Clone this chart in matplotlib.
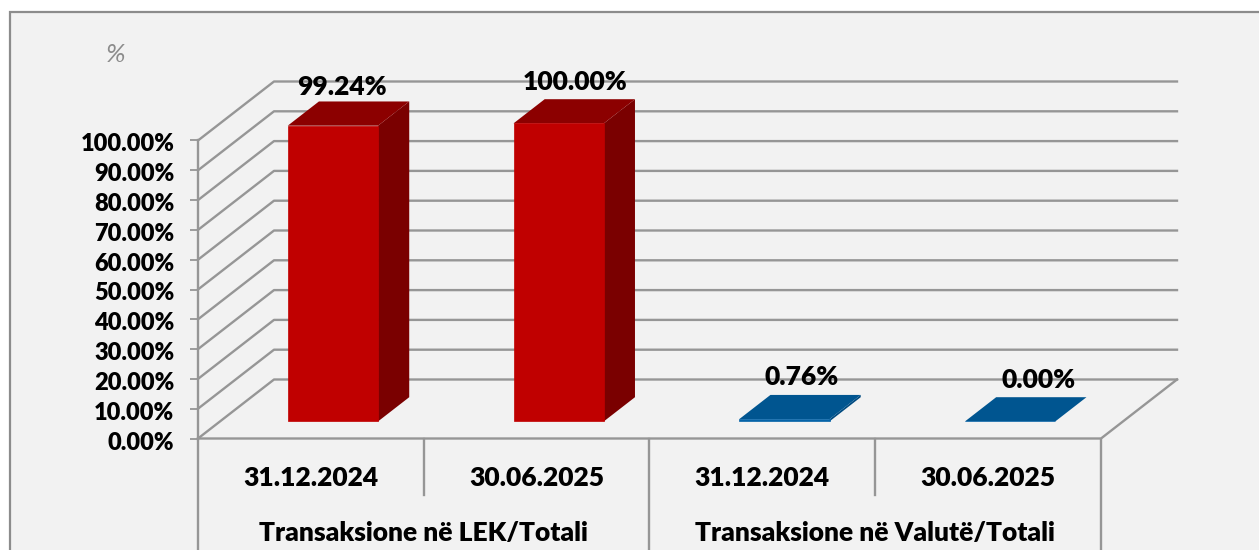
import matplotlib
matplotlib.use("Agg")
import matplotlib.pyplot as plt
from matplotlib.patches import Polygon, Rectangle
from matplotlib.transforms import ScaledTranslation

plt.rcParams['font.family'] = ['Lato', 'DejaVu Sans']

groups = ["Transaksione në LEK/Totali", "Transaksione në Valutë/Totali"]
dates = ["31.12.2024", "30.06.2025", "31.12.2024", "30.06.2025"]
values = [99.24, 100.00, 0.76, 0.00]
labels = ["99.24%", "100.00%", "0.76%", "0.00%"]
y_ticks = [0, 10, 20, 30, 40, 50, 60, 70, 80, 90, 100]

W, H = 1259, 550
GRID = '#969696'
BG = '#f2f2f2'
FRONT = ['#c00000', '#c00000', '#0563a8', '#0563a8']
TOP = ['#8c0000', '#8c0000', '#005590', '#005590']
SIDE = ['#7a0000', '#7a0000', '#004a80', '#004a80']
# hand placed data labels, pixels from the back edge of the bar top
LABEL_DX = [-22, -15, -14, -3]
LABEL_DY = [14, 17, 18, 17]

# front plane of the box, in pixels
left, right, base, top = 198, 1101, 438.5, 140.5
depth_x = 76 / (right - left) * 4   # depth expressed in data units
depth_y = 59 / (base - top) * 100

fig = plt.figure(figsize=(W / 100, H / 100), dpi=100, facecolor='white')

# background and frame, the right side runs off the picture
bg = fig.add_axes([0, 0, 1, 1])
bg.set_xlim(0, W)
bg.set_ylim(H, 0)
bg.axis('off')
bg.add_patch(Rectangle((10, 12), 1300, 560, fc=BG, ec='#8c8c8c', lw=1.6))
bg.text(116, 55, "%", fontsize=19, style='italic', color='#8c8c8c', ha='center', va='center')

ax = fig.add_axes([left / W, 1 - base / H, (right - left) / W, (base - top) / H])
ax.set_xlim(0, 4)
ax.set_ylim(0, 100)
ax.patch.set_alpha(0)
for s in ax.spines.values():
    s.set_visible(False)


def proj(x, v, d):
    # d is depth, 0 = front plane, 1 = back wall
    return (x + d * depth_x, v + d * depth_y)


# walls, gridlines
for v in y_ticks:
    pts = [proj(0, v, 0), proj(0, v, 1), proj(4, v, 1)]
    ax.plot(*zip(*pts), color=GRID, lw=1.7, clip_on=False, zorder=1)
ax.plot([0, 0], [0, 100], color=GRID, lw=1.7, clip_on=False, zorder=1)
floor = [proj(0, 0, 0), proj(4, 0, 0), proj(4, 0, 1)]
ax.plot(*zip(*floor), color=GRID, lw=1.7, clip_on=False, zorder=1)

# bars
bar_w = 0.4
d0, d1 = 0.29, 0.70
for i, v in enumerate(values):
    x0 = i + 0.5 - bar_w / 2
    x1 = i + 0.5 + bar_w / 2
    front = [proj(x0, 0, d0), proj(x1, 0, d0), proj(x1, v, d0), proj(x0, v, d0)]
    side = [proj(x1, 0, d0), proj(x1, 0, d1), proj(x1, v, d1), proj(x1, v, d0)]
    lid = [proj(x0, v, d0), proj(x1, v, d0), proj(x1, v, d1), proj(x0, v, d1)]
    ax.add_patch(Polygon(side, fc=SIDE[i], ec='none', clip_on=False, zorder=3))
    ax.add_patch(Polygon(lid, fc=TOP[i], ec='none', clip_on=False, zorder=3))
    ax.add_patch(Polygon(front, fc=FRONT[i], ec=FRONT[i], lw=0.5, clip_on=False, zorder=4))
    lx, ly = proj(i + 0.5, v, d1)
    ax.annotate(labels[i], (lx, ly), xytext=(LABEL_DX[i] * 0.72, LABEL_DY[i] * 0.72),
                textcoords='offset points', ha='center', va='center',
                fontsize=19, fontweight='heavy', color='black', zorder=5, annotation_clip=False)

# axis
ax.set_yticks(y_ticks)
ax.set_yticklabels([f"{v:.2f}%" for v in y_ticks], fontsize=17, fontweight='heavy', color='black')
ax.tick_params(axis='y', length=6, width=1.3, color=GRID, pad=11)
ax.set_xticks([])
shift = ScaledTranslation(0, -2 / 100, fig.dpi_scale_trans)
for lab in ax.get_yticklabels():
    lab.set_transform(lab.get_transform() + shift)

# category table below the floor
for x, end in [(0, 550), (1, 495), (2, 550), (3, 495), (4, 550)]:
    bg.plot([left + x * (right - left) / 4] * 2, [base, end], color=GRID, lw=1.7, zorder=2)
for i, d in enumerate(dates):
    bg.text(left + (i + 0.5) * (right - left) / 4, 478, d, fontsize=19, fontweight='heavy',
            ha='center', va='center', color='black')
for i, g in enumerate(groups):
    bg.text(left + (2 * i + 1) * (right - left) / 4, 533, g, fontsize=19, fontweight='heavy',
            ha='center', va='center', color='black')

fig.savefig('out.png', dpi=100, facecolor='white')
